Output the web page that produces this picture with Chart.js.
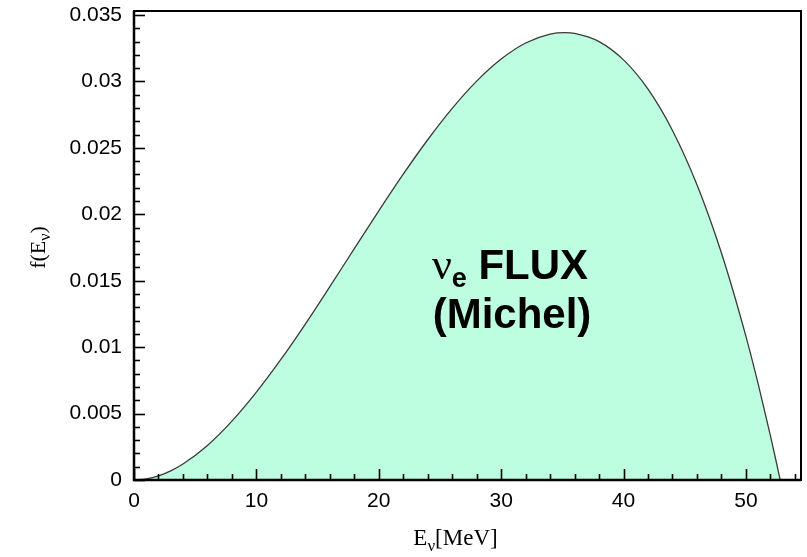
<!DOCTYPE html>
<html><head><meta charset="utf-8">
<script src="https://cdn.jsdelivr.net/npm/chart.js@4.4.0/dist/chart.umd.min.js"></script>
<style>html,body{margin:0;padding:0;background:#fff;}#wrap{width:807px;height:557px;position:relative;}</style>
</head><body><div id="wrap"><canvas id="c" width="807" height="557"></canvas></div>
<script>
// Neutrino energy (MeV) and flux f(E_nu)
const energies = [0, 1, 2, 3, 4, 6, 8, 10, 12, 14, 16, 18, 20, 22, 24, 26, 28, 30, 32, 34, 35.2, 36, 38, 40, 42, 44, 46, 48, 50, 51, 52, 52.5, 52.8];
const flux     = [0, 0.00008, 0.00031, 0.00069, 0.00120, 0.00260, 0.00443, 0.00661, 0.00907, 0.01174, 0.01455, 0.01741, 0.02026, 0.02302, 0.02561, 0.02797, 0.03002, 0.03168, 0.03289, 0.03356, 0.03367, 0.03362, 0.03300, 0.03162, 0.02942, 0.02631, 0.02222, 0.01708, 0.01081, 0.00723, 0.00334, 0.00128, 0];
const xTickLabels = [0, 10, 20, 30, 40, 50];
const yTickLabels = [0, 0.005, 0.01, 0.015, 0.02, 0.025, 0.03, 0.035];
const xMinorStep = 2;
const yMinorStep = 0.001;

const points = energies.map((e, i) => ({x: e, y: flux[i]}));

function buildTicks(majors, step, max) {
  const out = [];
  const n = Math.floor(max / step + 1e-9);
  for (let i = 0; i <= n; i++) {
    const v = +(i * step).toFixed(6);
    const major = majors.some(m => Math.abs(m - v) < step / 10);
    out.push({value: v, major: major});
  }
  return out;
}

const framePlugin = {
  id: 'frame',
  afterDraw(chart) {
    const ctx = chart.ctx, a = chart.chartArea;
    const xs = chart.scales.x, ys = chart.scales.y;
    ctx.save();
    ctx.strokeStyle = '#000';
    ctx.lineWidth = 1.6;
    xs.ticks.forEach(t => {
      const px = Math.round(xs.getPixelForValue(t.value)) + 0.5;
      const len = t.major ? 11 : 6;
      ctx.beginPath(); ctx.moveTo(px, a.bottom); ctx.lineTo(px, a.bottom - len); ctx.stroke();
    });
    ys.ticks.forEach(t => {
      const py = Math.round(ys.getPixelForValue(t.value)) + 0.5;
      const len = t.major ? 11 : 6;
      ctx.beginPath(); ctx.moveTo(a.left, py); ctx.lineTo(a.left + len, py); ctx.stroke();
    });
    ctx.lineWidth = 2;
    ctx.strokeRect(a.left, a.top, a.right - a.left, a.bottom - a.top);
    ctx.lineWidth = 2.5;
    ctx.beginPath(); ctx.moveTo(a.left, a.top); ctx.lineTo(a.left, a.bottom); ctx.lineTo(a.right, a.bottom); ctx.stroke();

    ctx.fillStyle = '#000';
    ctx.textBaseline = 'alphabetic';
    const serif = '"Liberation Serif", "Times New Roman", serif';
    // x title: E_nu[MeV]
    const xc = (a.left + a.right) / 2 - 12;
    const xb = 545;
    ctx.font = '23px ' + serif;
    const wE = ctx.measureText('E').width;
    ctx.font = '17px ' + serif;
    const wNu = ctx.measureText('\u03BD').width;
    ctx.font = '23px ' + serif;
    const wRest = ctx.measureText('[MeV]').width;
    let x0 = xc - (wE + wNu + wRest) / 2;
    ctx.textAlign = 'left';
    ctx.fillText('E', x0, xb);
    ctx.font = '17px ' + serif;
    ctx.fillText('\u03BD', x0 + wE, xb + 6);
    ctx.font = '23px ' + serif;
    ctx.fillText('[MeV]', x0 + wE + wNu, xb);

    // y title: f(E_nu) rotated
    ctx.save();
    ctx.translate(45, (a.top + a.bottom) / 2 + 2);
    ctx.rotate(-Math.PI / 2);
    ctx.font = '22px ' + serif;
    const w1 = ctx.measureText('f(E').width;
    ctx.font = '16px ' + serif;
    const w2 = ctx.measureText('\u03BD').width;
    ctx.font = '22px ' + serif;
    const w3 = ctx.measureText(')').width;
    let s = -(w1 + w2 + w3) / 2;
    ctx.fillText('f(E', s, 0);
    ctx.font = '16px ' + serif;
    ctx.fillText('\u03BD', s + w1, 5);
    ctx.font = '22px ' + serif;
    ctx.fillText(')', s + w1 + w2, 0);
    ctx.restore();

    // annotation
    const sans = '"Liberation Sans", Arial, Helvetica, sans-serif';
    const cx = 510;
    ctx.font = '44px ' + serif;
    const wn = ctx.measureText('\u03BD').width;
    ctx.font = 'bold 27px ' + sans;
    const we = ctx.measureText('e').width;
    ctx.font = 'bold 42px ' + sans;
    const wf = ctx.measureText(' FLUX').width;
    let ax = cx - (wn + we + wf) / 2;
    ctx.font = '44px ' + serif;
    ctx.fillText('\u03BD', ax, 279);
    ctx.font = 'bold 27px ' + sans;
    ctx.fillText('e', ax + wn, 287);
    ctx.font = 'bold 42px ' + sans;
    ctx.fillText(' FLUX', ax + wn + we, 279);
    ctx.textAlign = 'center';
    ctx.fillText('(Michel)', cx + 2, 328);
    ctx.restore();
  }
};

new Chart(document.getElementById('c'), {
  type: 'scatter',
  data: {
    datasets: [{
      data: points,
      showLine: true,
      fill: 'origin',
      backgroundColor: '#bdfde0',
      borderColor: '#3a3a3a',
      borderWidth: 1.3,
      pointRadius: 0,
      cubicInterpolationMode: 'monotone'
    }]
  },
  options: {
    responsive: false,
    animation: false,
    events: [],
    layout: {padding: {left: 0, right: 6, top: 11, bottom: 0}},
    plugins: {legend: {display: false}, tooltip: {enabled: false}},
    scales: {
      x: {
        type: 'linear', min: 0, max: 54.5,
        grid: {display: false, drawTicks: false, tickLength: 0}, border: {display: false},
        afterBuildTicks: sc => { sc.ticks = buildTicks(xTickLabels, xMinorStep, 54.5); },
        afterFit: sc => { sc.height = 77; sc.paddingLeft = 0; sc.paddingRight = 0; },
        ticks: {
          autoSkip: false, maxRotation: 0, padding: 9, color: '#000',
          font: {family: '"Liberation Sans", Arial, Helvetica, sans-serif', size: 21},
          callback: (v) => xTickLabels.some(m => Math.abs(m - v) < 1e-6) ? String(v) : ''
        }
      },
      y: {
        type: 'linear', min: 0, max: 0.0353,
        grid: {display: false, drawTicks: false, tickLength: 0}, border: {display: false},
        afterBuildTicks: sc => { sc.ticks = buildTicks(yTickLabels, yMinorStep, 0.0353); },
        afterFit: sc => { sc.width = 134; sc.paddingTop = 0; sc.paddingBottom = 0; },
        ticks: {
          autoSkip: false, padding: 12, color: '#000',
          font: {family: '"Liberation Sans", Arial, Helvetica, sans-serif', size: 21},
          callback: (v) => {
            const m = yTickLabels.find(t => Math.abs(t - v) < 1e-7);
            return m === undefined ? '' : String(m);
          }
        }
      }
    }
  },
  plugins: [framePlugin]
});
</script>
</body></html>
